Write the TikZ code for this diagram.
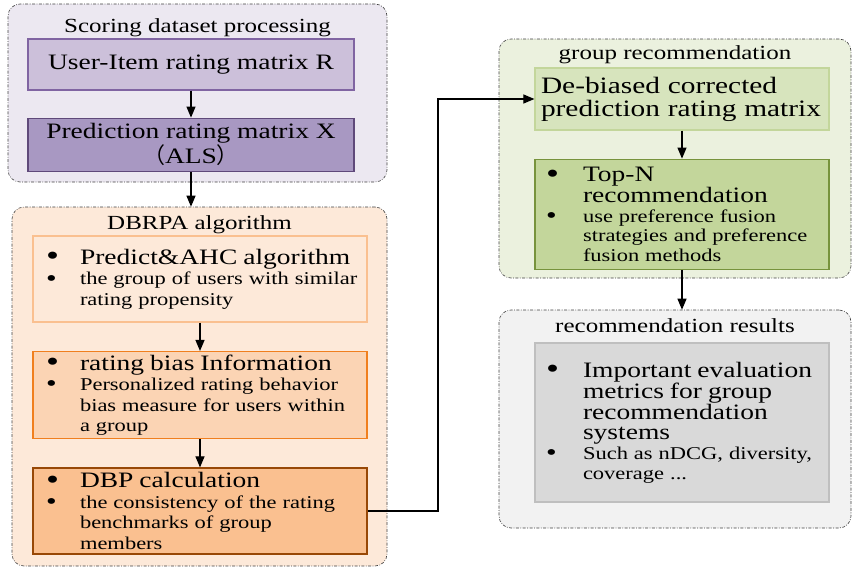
\documentclass[tikz,border=0pt]{standalone}
\usepackage{fontspec}
\usepackage{graphicx}
\setmainfont{Liberation Serif}[FakeStretch=1.25]
\newfontfamily\cjk{Noto Sans CJK SC}
\usetikzlibrary{positioning, arrows.meta}

\definecolor{scoringbg}{HTML}{ECE8F1}
\definecolor{userfill}{HTML}{CCC0DA}
\definecolor{userline}{HTML}{8064A2}
\definecolor{predfill}{HTML}{A898C2}
\definecolor{predline}{HTML}{5F497A}
\definecolor{dbrpabg}{HTML}{FDE9D9}
\definecolor{ahcline}{HTML}{FAC090}
\definecolor{biasfill}{HTML}{FBD4B4}
\definecolor{biasline}{HTML}{F07F1E}
\definecolor{dbpfill}{HTML}{FAC090}
\definecolor{dbpline}{HTML}{984806}
\definecolor{grecbg}{HTML}{EBF1DE}
\definecolor{debfill}{HTML}{D7E4BD}
\definecolor{debline}{HTML}{C3D69B}
\definecolor{topnfill}{HTML}{C3D69B}
\definecolor{topnline}{HTML}{77933C}
\definecolor{resbg}{HTML}{F2F2F2}
\definecolor{evalfill}{HTML}{D9D9D9}
\definecolor{evalline}{HTML}{BFBFBF}

\newcommand{\bigline}[1]{{\fontsize{22}{20.5}\selectfont #1}}
\newcommand{\bulletdot}{\raisebox{-0.08em}{\scalebox{1.35}{\textbullet}}}
\newcommand{\itm}[2][34pt]{\makebox[#1][l]{\bulletdot}\mbox{#2}}
\newcommand{\cnt}[2][34pt]{\hspace*{#1}\mbox{#2}}

\begin{document}
\begin{tikzpicture}[x=1pt,y=-1pt,->,>={Triangle[length=11pt,width=9pt]},line width=1.1pt,
            node distance=30pt]
            \tikzstyle{group}=[draw=black!75, line width=0.6pt, rounded corners=12pt,
              dash pattern=on 3pt off 1.5pt on 0.8pt off 1.5pt, inner sep=0pt]
            \tikzstyle{gtitle}=[font=\fontsize{20}{22}\selectfont, inner sep=0pt]
            \tikzstyle{box}=[draw, line width=1.2pt, inner ysep=3pt]
            \tikzstyle{listbox}=[box, align=left, font=\fontsize{18}{20.5}\selectfont]

            \useasboundingbox (0,0) rectangle (852,570);

            % group frames
            \node[group, fill=scoringbg, minimum width=379pt, minimum height=178pt] (scoring) at (197.5,93) {};
            \node[group, fill=dbrpabg, minimum width=375pt, minimum height=359pt] (dbrpa) at (199.5,386.5) {};
            \node[group, fill=grecbg, minimum width=352pt, minimum height=239pt] (grec) at (675,158.5) {};
            \node[group, fill=resbg, minimum width=352pt, minimum height=218pt] (results) at (675,419) {};

            \node[gtitle, below=14pt of scoring.north] (scoringT) {Scoring dataset processing};
            \node[gtitle, below=8pt of dbrpa.north]    (dbrpaT)   {DBRPA algorithm};
            \node[gtitle, below=6pt of grec.north]     (grecT)    {group recommendation};
            \node[gtitle, below=8pt of results.north]  (resultsT) {recommendation results};

            % left column
            \node[box, fill=userfill, draw=userline, minimum width=326pt, minimum height=51pt,
              font=\fontsize{22}{24}\selectfont] (R) at (191,64.5) {User-Item rating matrix R};
            \node[box, fill=predfill, draw=predline, minimum width=326pt, minimum height=53pt,
              align=center, font=\fontsize{22}{25}\selectfont] (X) [below=27pt of R]
              {Prediction rating matrix X\\{\cjk （}ALS{\cjk ）}};

            \node[listbox, fill=dbrpabg, draw=ahcline, text width=308pt, inner xsep=13pt,
              minimum height=86pt] (A) at (200,279)
              {\bigline{\itm{Predict\&AHC algorithm}}\\
               \itm{the group of users with similar}\\
               \cnt{rating propensity}};
            \node[listbox, fill=biasfill, draw=biasline, text width=308pt, inner xsep=13pt,
              minimum height=86pt] (B) [below of=A, node distance=116pt]
              {\bigline{\itm{rating bias Information}}\\
               \itm{Personalized rating behavior}\\
               \cnt{bias measure for users within}\\
               \cnt{a group}};
            \node[listbox, fill=dbpfill, draw=dbpline, text width=308pt, inner xsep=13pt,
              minimum height=86pt] (C) [below of=B, node distance=116pt]
              {\bigline{\itm{DBP calculation}}\\
               \itm{the consistency of the rating}\\
               \cnt{benchmarks of group}\\
               \cnt{members}};

            % right column
            \node[box, fill=debfill, draw=debline, text width=282pt, inner xsep=6pt,
              minimum height=62pt, align=left, font=\fontsize{23.5}{23}\selectfont] (D) at (682,99)
              {De-biased corrected\\prediction rating matrix};
            \node[listbox, fill=topnfill, draw=topnline, text width=272pt, inner xsep=11pt,
              minimum height=110pt, font=\fontsize{18}{19.5}\selectfont] (E) [below=28pt of D]
              {\bigline{\itm[37pt]{Top-N}}\\
               \bigline{\cnt[37pt]{recommendation}}\\
               \itm[37pt]{use preference fusion}\\
               \cnt[37pt]{strategies and preference}\\
               \cnt[37pt]{fusion methods}};
            \node[listbox, fill=evalfill, draw=evalline, text width=272pt, inner xsep=11pt,
              minimum height=159pt, font=\fontsize{18}{20}\selectfont] (F) at (682,422.5)
              {\bigline{\itm[37pt]{Important evaluation}}\\
               \bigline{\cnt[37pt]{metrics for group}}\\
               \bigline{\cnt[37pt]{recommendation}}\\
               \bigline{\cnt[37pt]{systems}}\\
               \itm[37pt]{Such as nDCG, diversity,}\\
               \cnt[37pt]{coverage ...}};

            \coordinate (turn) at (438,0);

            \draw (R) -- (X);
            \draw (X.south) -- (X.south |- dbrpa.north);
            \draw (A) -- (B);
            \draw (B) -- (C);
            \draw (C.east) -| (turn |- D.west) -- (D.west);
            \draw (D) -- (E);
            \draw (E.south) -- (E.south |- results.north);

        \end{tikzpicture}
\end{document}
